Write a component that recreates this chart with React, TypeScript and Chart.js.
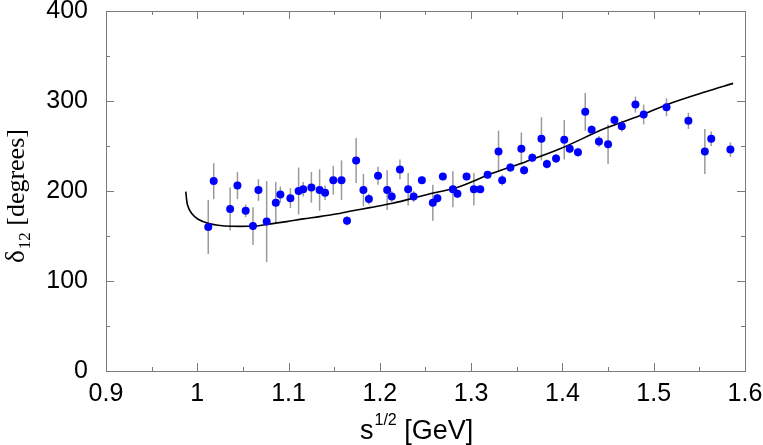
import React, { useEffect, useRef } from "react";
import { Chart, registerables } from "chart.js";

Chart.register(...registerables);

// Data points: sqrt(s) [GeV], delta_12 [degrees], error
const sqrtS = [
  1.012, 1.018, 1.036, 1.044, 1.053, 1.061, 1.067, 1.076, 1.086, 1.091,
  1.102, 1.111, 1.116, 1.125, 1.134, 1.140, 1.149, 1.158, 1.164, 1.174,
  1.182, 1.188, 1.198, 1.208, 1.213, 1.222, 1.231, 1.237, 1.246, 1.258,
  1.263, 1.269, 1.280, 1.285, 1.295, 1.303, 1.310, 1.318, 1.330, 1.334,
  1.343, 1.355, 1.358, 1.367, 1.377, 1.383, 1.393, 1.402, 1.408, 1.417,
  1.425, 1.432, 1.440, 1.450, 1.457, 1.465, 1.480, 1.489, 1.514, 1.538,
  1.556, 1.563, 1.584,
];
const delta = [
  160, 211, 180, 206, 178, 161, 201, 166, 187, 196,
  192, 200, 202, 204, 201, 198, 212, 212, 167, 234,
  201, 191, 217, 201, 194, 224, 202, 194, 212, 187,
  192, 216, 202, 197, 216, 202, 202, 218, 244, 212,
  226, 247, 223, 237, 258, 230, 236, 257, 247, 243,
  288, 268, 255, 252, 279, 272, 296, 285, 293, 278,
  244, 258, 246,
];
const deltaErr = [
  30, 20, 24, 15, 7, 21, 12, 45, 23, 9,
  11, 26, 8, 17, 23, 8, 16, 22, 5, 25,
  18, 6, 10, 22, 6, 11, 18, 6, 4, 20,
  5, 4, 20, 5, 4, 18, 4, 4, 23, 6,
  5, 18, 5, 5, 24, 5, 5, 22, 5, 5,
  21, 5, 6, 22, 5, 6, 9, 11, 10, 9,
  25, 8, 8,
];

// Theory curve
const curveS = [
  0.9874, 0.9893, 0.9937, 1.0009, 1.0118, 1.0227, 1.0374, 1.0628, 1.079, 1.098,
  1.116, 1.134, 1.152, 1.170, 1.189, 1.214, 1.250, 1.287, 1.323, 1.360,
  1.396, 1.447, 1.484, 1.520, 1.557, 1.587,
];
const curveDelta = [
  199.2, 184.4, 175.2, 168.6, 164.1, 161.9, 160.8, 161.1, 163.3, 166,
  169, 171.5, 174.4, 178, 181.5, 186.3, 195.6, 204.8, 219.6, 232.6,
  246.3, 269.6, 283.3, 298.1, 310.4, 319.6,
];

const X_MIN = 0.9;
const X_MAX = 1.6;
const X_STEP = 0.1;
const Y_MIN = 0;
const Y_MAX = 400;
const Y_STEP = 100;

const SANS = "'Liberation Sans', Arial, Helvetica, sans-serif";
const SERIF = "'Liberation Serif', 'Times New Roman', serif";

const errorBarPlugin = {
  id: "errorBars",
  beforeDatasetsDraw(chart: any) {
    const { ctx } = chart;
    const x = chart.scales.x;
    const y = chart.scales.y;
    ctx.save();
    ctx.strokeStyle = "#9a9a9a";
    ctx.lineWidth = 1.5;
    for (let i = 0; i < sqrtS.length; i++) {
      const px = x.getPixelForValue(sqrtS[i]);
      const top = y.getPixelForValue(delta[i] + deltaErr[i]);
      const bot = y.getPixelForValue(delta[i] - deltaErr[i]);
      ctx.beginPath();
      ctx.moveTo(px, top);
      ctx.lineTo(px, bot);
      ctx.stroke();
    }
    ctx.restore();
  },
};

const framePlugin = {
  id: "frame",
  afterDraw(chart: any) {
    const { ctx, chartArea } = chart;
    const { left, right, top, bottom } = chartArea;
    const x = chart.scales.x;
    const y = chart.scales.y;
    ctx.save();
    ctx.strokeStyle = "#7a7a7a";
    ctx.lineWidth = 1;
    ctx.strokeRect(left + 0.5, top + 0.5, right - left, bottom - top);
    ctx.beginPath();
    const nx = Math.round((X_MAX - X_MIN) / (X_STEP / 2));
    for (let i = 0; i <= nx; i++) {
      const v = X_MIN + (i * X_STEP) / 2;
      const px = Math.round(x.getPixelForValue(v)) + 0.5;
      const len = i % 2 === 0 ? 8 : 4;
      ctx.moveTo(px, bottom);
      ctx.lineTo(px, bottom - len);
      ctx.moveTo(px, top);
      ctx.lineTo(px, top + len);
    }
    const ny = Math.round((Y_MAX - Y_MIN) / (Y_STEP / 2));
    for (let i = 0; i <= ny; i++) {
      const v = Y_MIN + (i * Y_STEP) / 2;
      const py = Math.round(y.getPixelForValue(v)) + 0.5;
      const len = i % 2 === 0 ? 8 : 4;
      ctx.moveTo(left, py);
      ctx.lineTo(left + len, py);
      ctx.moveTo(right, py);
      ctx.lineTo(right - len, py);
    }
    ctx.stroke();

    // X title: s^{1/2} [GeV]
    ctx.fillStyle = "#000";
    ctx.textBaseline = "alphabetic";
    ctx.textAlign = "left";
    let tx = 360;
    const ty = 439;
    ctx.font = `27px ${SANS}`;
    ctx.fillText("s", tx, ty);
    tx += ctx.measureText("s").width + 1;
    ctx.font = `16px ${SANS}`;
    ctx.fillText("1/2", tx, ty - 14);
    tx += ctx.measureText("1/2").width;
    ctx.font = `27px ${SANS}`;
    ctx.fillText(" [GeV]", tx, ty);

    // Y title: δ_12 [degrees]
    ctx.translate(24, 263);
    ctx.rotate(-Math.PI / 2);
    let ux = 0;
    ctx.font = `27px ${SERIF}`;
    ctx.fillText("δ", ux, 0);
    ux += ctx.measureText("δ").width + 1;
    ctx.font = `17px ${SERIF}`;
    ctx.fillText("12", ux, 6);
    ux += ctx.measureText("12").width;
    ctx.font = `26px ${SERIF}`;
    ctx.fillText(" [degrees]", ux, 0);
    ctx.restore();
  },
};

export default function App() {
  const ref = useRef<HTMLCanvasElement | null>(null);

  useEffect(() => {
    if (!ref.current) return;
    const chart = new Chart(ref.current, {
      type: "scatter",
      data: {
        datasets: [
          {
            type: "scatter",
            label: "data",
            data: sqrtS.map((s, i) => ({ x: s, y: delta[i] })),
            backgroundColor: "#0000ff",
            borderColor: "#0000ff",
            borderWidth: 0,
            pointRadius: 4,
            order: 0,
          },
          {
            type: "line",
            label: "curve",
            data: curveS.map((s, i) => ({ x: s, y: curveDelta[i] })),
            borderColor: "#000",
            borderWidth: 1.6,
            pointRadius: 0,
            fill: false,
            tension: 0.3,
            order: 1,
          } as any,
        ],
      },
      options: {
        responsive: false,
        animation: false,
        layout: { padding: { left: 0, right: 18, top: 11, bottom: 0 } },
        plugins: {
          legend: { display: false },
          tooltip: { enabled: false },
        },
        scales: {
          x: {
            type: "linear",
            min: X_MIN,
            max: X_MAX,
            grid: { display: false, drawTicks: false },
            border: { display: false },
            ticks: {
              stepSize: X_STEP,
              padding: 8,
              color: "#000",
              font: { family: SANS, size: 25 },
              maxRotation: 0,
              callback: (v: any) => String(Number(Number(v).toFixed(1))),
            },
            afterFit: (s: any) => {
              s.height = 74;
              s.paddingLeft = 0;
              s.paddingRight = 0;
            },
          },
          y: {
            type: "linear",
            min: Y_MIN,
            max: Y_MAX,
            grid: { display: false, drawTicks: false },
            border: { display: false },
            ticks: {
              stepSize: Y_STEP,
              padding: 18,
              color: "#000",
              font: { family: SANS, size: 25 },
            },
            afterFit: (s: any) => {
              s.width = 106;
              s.paddingTop = 0;
              s.paddingBottom = 0;
            },
          },
        },
      },
      plugins: [errorBarPlugin, framePlugin],
    });
    return () => chart.destroy();
  }, []);

  return (
    <div style={{ position: "absolute", left: 0, top: 0, width: 763, height: 445, background: "#fff" }}>
      <canvas ref={ref} width={763} height={445} style={{ display: "block" }} />
    </div>
  );
}
